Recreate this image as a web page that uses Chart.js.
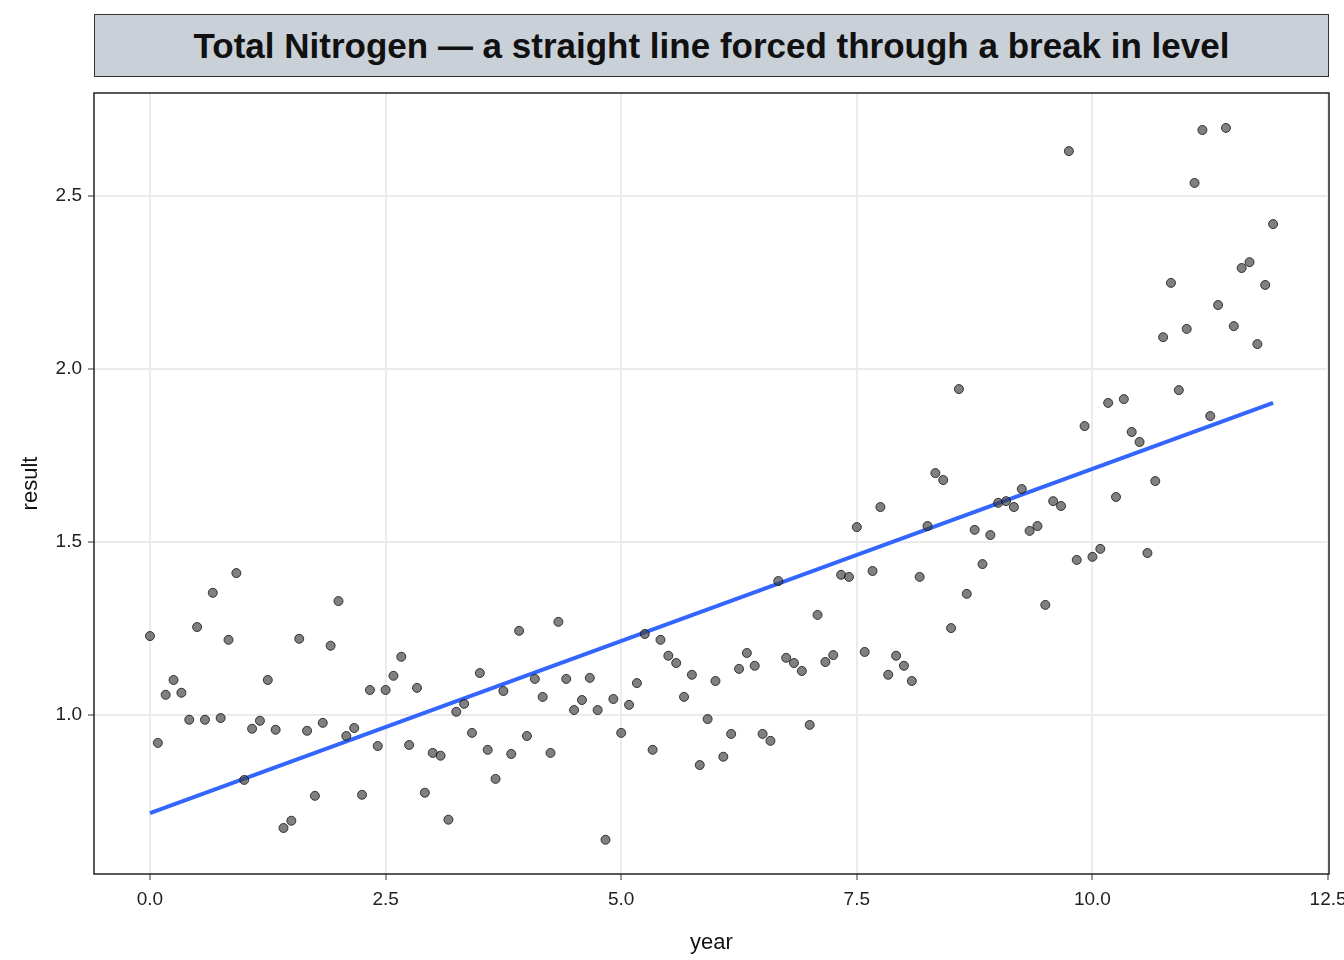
<!DOCTYPE html>
<html>
<head>
<meta charset="utf-8">
<script src="https://cdn.jsdelivr.net/npm/chart.js@4/dist/chart.umd.min.js"></script>
<style>
  body { margin: 0; background: #fff; font-family: "Liberation Sans", Arial, sans-serif; }
  #wrap { position: relative; width: 1344px; height: 960px; overflow: hidden; }
  #strip {
    position: absolute; left: 94px; top: 14px; width: 1233px; height: 61px;
    border: 1px solid #333; background: #c9d0d8; color: #111;
    font: bold 35px "Liberation Sans", Arial, sans-serif;
    display: flex; align-items: center; justify-content: center;
  }
</style>
</head>
<body>
<div id="wrap">
  <canvas id="grafica" width="1344" height="960"></canvas>
  <div id="strip">Total Nitrogen — a straight line forced through a break in level</div>
</div>
<script>
// monthly samples, 12 years (year = month index / 12)
const resultados = [
  1.228, 0.919, 1.058, 1.101, 1.064, 0.986, 1.254, 0.986, 1.353, 0.991, 1.217, 1.410,
  0.812, 0.960, 0.983, 1.101, 0.957, 0.673, 0.694, 1.220, 0.954, 0.766, 0.977, 1.200,
  1.329, 0.939, 0.962, 0.769, 1.072, 0.910, 1.072, 1.113, 1.168, 0.913, 1.078, 0.775,
  0.890, 0.882, 0.697, 1.009, 1.032, 0.948, 1.121, 0.899, 0.815, 1.069, 0.887, 1.243,
  0.939, 1.104, 1.052, 0.890, 1.269, 1.104, 1.014, 1.043, 1.107, 1.014, 0.639, 1.046,
  0.948, 1.029, 1.092, 1.234, 0.899, 1.217, 1.171, 1.150, 1.052, 1.116, 0.855, 0.988,
  1.098, 0.879, 0.945, 1.133, 1.179, 1.142, 0.945, 0.925, 1.387, 1.165, 1.150, 1.127,
  0.971, 1.289, 1.153, 1.173, 1.405, 1.399, 1.543, 1.182, 1.416, 1.601, 1.116, 1.171,
  1.142, 1.098, 1.399, 1.546, 1.699, 1.679, 1.251, 1.942, 1.350, 1.535, 1.436, 1.520,
  1.613, 1.618, 1.601, 1.653, 1.532, 1.546, 1.318, 1.618, 1.604, 2.630, 1.448, 1.835,
  1.457, 1.480, 1.902, 1.630, 1.913, 1.818, 1.789, 1.468, 1.676, 2.092, 2.249, 1.939,
  2.116, 2.538, 2.691, 1.864, 2.185, 2.697, 2.124, 2.292, 2.309, 2.072, 2.243, 2.419
];
const anios = resultados.map((_, i) => i / 12);

// fitted straight line, end points
const lineaX = [0, 143 / 12];
const lineaY = [0.716, 1.902];

const puntos = anios.map((x, i) => ({ x: x, y: resultados[i] }));
const recta = lineaX.map((x, i) => ({ x: x, y: lineaY[i] }));

const marco = {
  id: 'marco',
  afterDraw(chart) {
    const { ctx, chartArea: a } = chart;
    ctx.save();
    ctx.strokeStyle = '#222';
    ctx.lineWidth = 1.5;
    ctx.strokeRect(a.left, a.top, a.right - a.left, a.bottom - a.top);
    ctx.restore();
  }
};

const tickFont = { family: '"Liberation Sans", Arial, sans-serif', size: 19 };
const titleFont = { family: '"Liberation Sans", Arial, sans-serif', size: 22 };

new Chart(document.getElementById('grafica').getContext('2d'), {
  type: 'scatter',
  data: {
    datasets: [
      {
        label: 'result',
        data: puntos,
        backgroundColor: 'rgba(60,60,60,0.65)',
        borderColor: 'rgba(20,20,20,0.8)',
        borderWidth: 1,
        pointRadius: 4.5
      },
      {
        type: 'line',
        label: 'fit',
        data: recta,
        borderColor: '#3366ff',
        borderWidth: 4,
        pointRadius: 0,
        fill: false
      }
    ]
  },
  options: {
    responsive: false,
    animation: false,
    layout: { padding: { left: 14, top: 93, right: 15, bottom: 0 } },
    plugins: { legend: { display: false }, tooltip: { enabled: false } },
    scales: {
      x: {
        type: 'linear',
        min: -0.594,
        max: 12.51,
        afterFit: s => { s.height = 86; s.paddingRight = 0; s.paddingLeft = 0; },
        afterBuildTicks: s => { s.ticks = [0, 2.5, 5, 7.5, 10, 12.5].map(v => ({ value: v })); },
        ticks: { color: '#222', font: tickFont, padding: 8, maxRotation: 0, callback: v => v.toFixed(1) },
        grid: { color: '#ebebeb', lineWidth: 2, tickColor: '#333', tickLength: 6, tickWidth: 1 },
        border: { display: false },
        title: { display: true, text: 'year', color: '#111', font: titleFont, padding: { top: 2 } }
      },
      y: {
        min: 0.54,
        max: 2.798,
        afterFit: s => { s.width = 80; },
        afterBuildTicks: s => { s.ticks = [1.0, 1.5, 2.0, 2.5].map(v => ({ value: v })); },
        ticks: { color: '#222', font: tickFont, padding: 6, callback: v => v.toFixed(1) },
        grid: { color: '#ebebeb', lineWidth: 2, tickColor: '#333', tickLength: 6, tickWidth: 1 },
        border: { display: false },
        title: { display: true, text: 'result', color: '#111', font: titleFont }
      }
    }
  },
  plugins: [marco]
});
</script>
</body>
</html>
